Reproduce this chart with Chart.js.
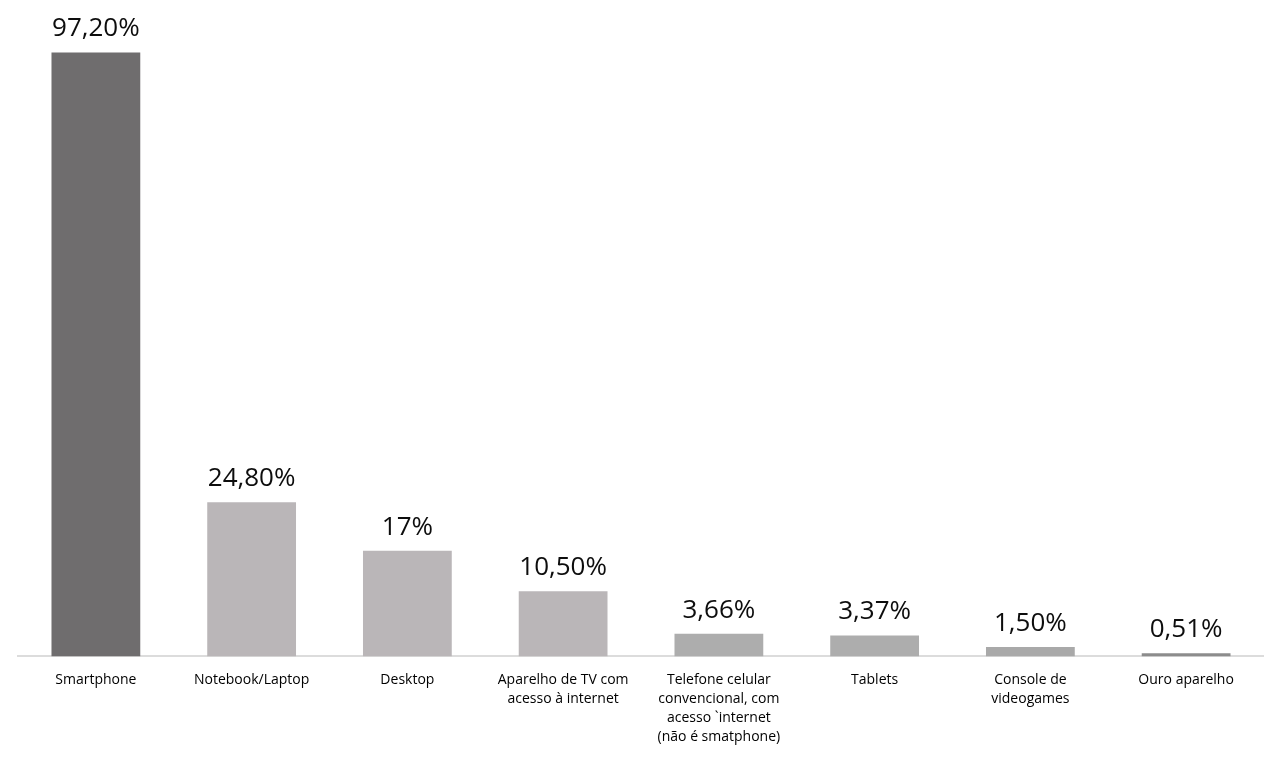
<!DOCTYPE html>
<html lang="pt">
<head>
<meta charset="UTF-8">
<title>Aparelhos</title>
<script src="https://cdn.jsdelivr.net/npm/chart.js"></script>
<style>
  body, html {
    margin: 0;
    background: #ffffff;
  }
  .wrap {
    position: relative;
    width: 1264px;
    height: 762px;
  }
</style>
</head>
<body>
<div class="wrap">
  <canvas id="chart"></canvas>
</div>

<script>
// dados
const categories = [
  'Smartphone',
  'Notebook/Laptop',
  'Desktop',
  ['Aparelho de TV com', 'acesso à internet'],
  ['Telefone celular', 'convencional, com', 'acesso `internet', '(não é smatphone)'],
  'Tablets',
  ['Console de', 'videogames'],
  'Ouro aparelho'
];
const values = [97.2, 24.8, 17, 10.5, 3.66, 3.37, 1.5, 0.51];
const valueLabels = ['97,20%', '24,80%', '17%', '10,50%', '3,66%', '3,37%', '1,50%', '0,51%'];
const barColors = ['#6f6d6e', '#bab6b8', '#bab6b8', '#bab6b8', '#adadad', '#adadad', '#a9a9a9', '#8c8c8c'];

// rótulos de valor acima das barras
const valueLabelPlugin = {
  id: 'valueLabels',
  afterDatasetsDraw(chart) {
    const ctx = chart.ctx;
    const meta = chart.getDatasetMeta(0);
    ctx.save();
    ctx.font = '26px "Open Sans"';
    ctx.fillStyle = '#0d0d0d';
    ctx.textAlign = 'center';
    ctx.textBaseline = 'alphabetic';
    meta.data.forEach((bar, i) => {
      ctx.fillText(valueLabels[i], bar.x, bar.y - 16);
    });
    ctx.restore();
  }
};

new Chart(document.getElementById('chart'), {
  type: 'bar',
  data: {
    labels: categories,
    datasets: [{
      data: values,
      backgroundColor: barColors,
      borderWidth: 0,
      categoryPercentage: 1,
      barPercentage: 0.57
    }]
  },
  options: {
    responsive: true,
    maintainAspectRatio: false,
    animation: false,
    layout: {
      padding: { top: 35, left: 18, right: 0, bottom: 2 }
    },
    plugins: {
      legend: { display: false },
      tooltip: { enabled: false }
    },
    scales: {
      y: {
        display: false,
        min: 0,
        max: 100
      },
      x: {
        grid: { display: false, drawTicks: false },
        border: { display: true, color: '#dcdcdc', width: 2 },
        ticks: {
          padding: 14,
          color: '#000000',
          maxRotation: 0,
          autoSkip: false,
          font: { family: '"Open Sans"', size: 14, lineHeight: 1.35 }
        }
      }
    }
  },
  plugins: [valueLabelPlugin]
});
</script>
</body>
</html>
